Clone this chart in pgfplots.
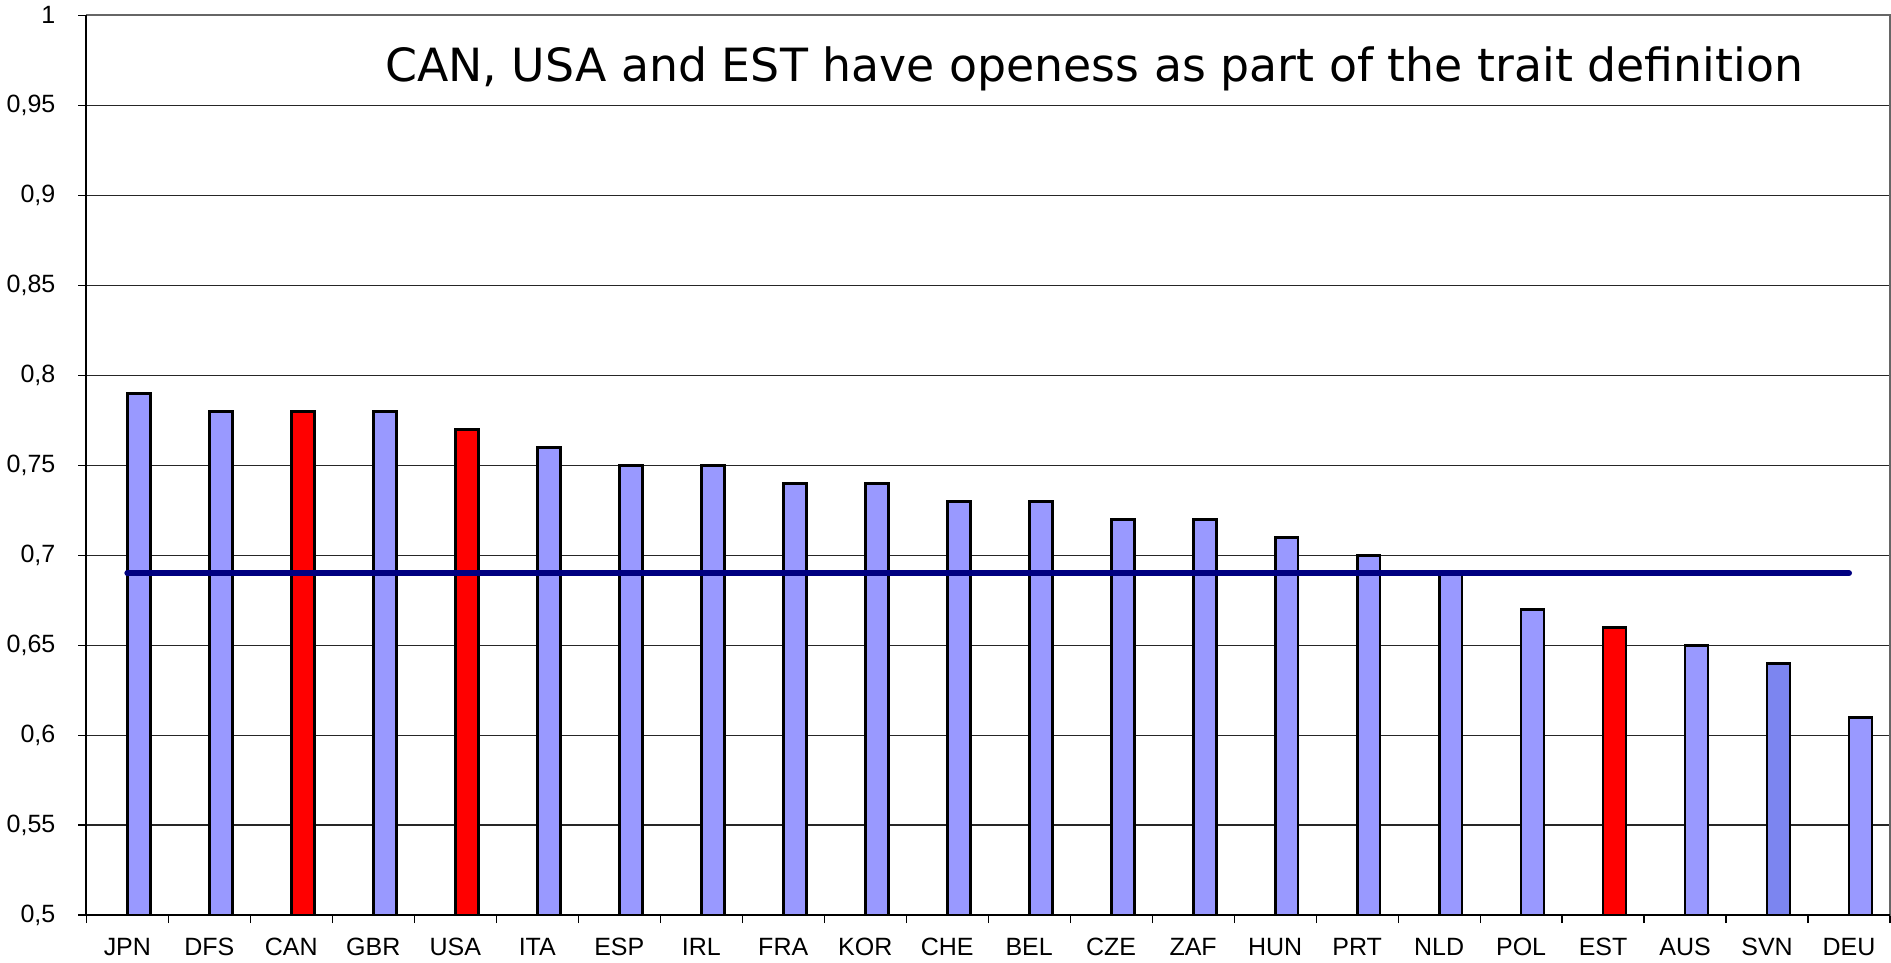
\documentclass[border=0pt]{standalone}
\usepackage{fontspec}
\setmainfont{Liberation Sans}
\newfontfamily\titlefont{DejaVu Sans}
\usepackage{pgfplots}
\pgfplotsset{compat=1.18}

\definecolor{barblue}{HTML}{9999FF}
\definecolor{barred}{HTML}{FF0000}
\definecolor{bardark}{HTML}{7C85F0}
\definecolor{meanline}{HTML}{000080}

\begin{document}
\begin{tikzpicture}
\begin{axis}[
  scale only axis,
  width=902pt, height=450pt,
  xmin=-0.5, xmax=21.5,
  ymin=0.5, ymax=1,
  xtick={0,...,21},
  xticklabels={JPN,DFS,CAN,GBR,USA,ITA,ESP,IRL,FRA,KOR,CHE,BEL,CZE,ZAF,HUN,PRT,NLD,POL,EST,AUS,SVN,DEU},
  minor xtick={-0.5,0.5,...,21.5},
  ytick={0.5,0.55,0.6,0.65,0.7,0.75,0.8,0.85,0.9,0.95,1},
  /pgf/number format/assume math mode=true,
  tick label style={font=\fontsize{12.5}{14}\selectfont},
  tick align=outside,
  tick pos=left,
  major tick length=4pt,
  minor tick length=4pt,
  x tick style={draw=none},
  minor x tick style={draw=black, line width=0.6pt},
  y tick style={black, line width=0.6pt},
  ymajorgrids,
  major grid style={black!85, line width=0.6pt},
  axis line style={gray!80!black, line width=0.8pt},
  xticklabel style={yshift=-4pt},
  yticklabel style={xshift=-8pt, /pgf/number format/use comma, /pgf/number format/fixed, /pgf/number format/precision=2},
  clip=false,
]
% main series
\addplot[ybar, bar width=0.28, bar shift=0.14, fill=barblue, draw=black, line width=1.4pt]
  coordinates {(0,0.79)(1,0.78)(3,0.78)(5,0.76)(6,0.75)(7,0.75)(8,0.74)(9,0.74)(10,0.73)(11,0.73)(12,0.72)(13,0.72)(14,0.71)(15,0.70)(16,0.69)(17,0.67)(19,0.65)(21,0.61)};
% countries with openness in the definition
\addplot[ybar, bar width=0.28, bar shift=0.14, fill=barred, draw=black, line width=1.4pt]
  coordinates {(2,0.78)(4,0.77)(18,0.66)};
\addplot[ybar, bar width=0.28, bar shift=0.14, fill=bardark, draw=black, line width=1.4pt]
  coordinates {(20,0.64)};
% average
\addplot[meanline, line width=3pt, line cap=round, mark=none] coordinates {(0,0.69)(21,0.69)};
\draw[black, line width=1pt] (axis cs:-0.5,0.5) -- (axis cs:21.5,0.5);
\draw[black, line width=1pt] (axis cs:-0.5,0.5) -- (axis cs:-0.5,1);
\node[anchor=west, font=\titlefont\fontsize{22.9}{26}\selectfont] at (axis cs:3.06,0.970)
  {CAN, USA and EST have openess as part of the trait definition};
\end{axis}
\end{tikzpicture}
\end{document}
